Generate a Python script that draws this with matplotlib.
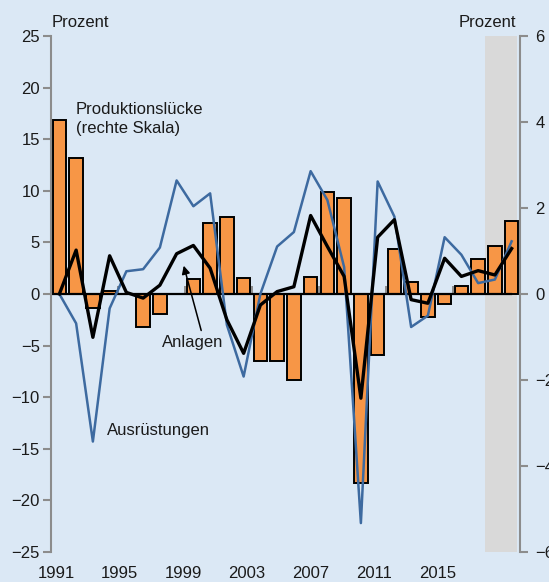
import matplotlib
matplotlib.use('Agg')
import matplotlib.pyplot as plt

plt.rcParams['font.family'] = ['Liberation Sans', 'DejaVu Sans']

years = list(range(1991, 2019))
# Produktionslücke, rechte Skala
luecke = [4.04, 3.16, -0.33, 0.08, 0.0, -0.77, -0.47, 0.0, 0.34, 1.64,
          1.78, 0.38, -1.55, -1.55, -2.0, 0.39, 2.36, 2.24, -4.4, -1.43,
          1.05, 0.27, -0.53, -0.23, 0.19, 0.81, 1.12, 1.70]
anlagen = [0, 4.25, -4.2, 3.7, 0.15, -0.4, 0.85, 3.9, 4.7, 2.5,
           -2.5, -5.75, -1.07, 0.23, 0.7, 7.6, 4.6, 1.7, -10.1, 5.5,
           7.2, -0.55, -0.9, 3.46, 1.7, 2.26, 1.84, 4.4]
ausruestungen = [0, -2.85, -14.3, -1.4, 2.2, 2.4, 4.5, 11.0, 8.5, 9.75,
                 -3.0, -8.0, 0.0, 4.6, 6.0, 11.9, 9.1, 2.6, -22.2, 10.9,
                 7.5, -3.2, -2.1, 5.5, 3.8, 1.05, 1.4, 5.1]
label_years = ['1991', '1995', '1999', '2003', '2007', '2011', '2015']

bg = '#DBE8F5'
orange = '#F79646'
blau = '#3D6AA0'
grau = '#8C8C8C'

x = list(range(len(years)))

fig = plt.figure(figsize=(5.49, 5.82), dpi=100)
fig.patch.set_facecolor(bg)
ax = fig.add_axes([0.0929, 0.0516, 0.8543, 0.8866])
ax2 = ax.twinx()
ax.set_zorder(ax2.get_zorder() + 1)
ax.patch.set_visible(False)
ax2.patch.set_visible(False)

# Prognosezeitraum
ax2.axvspan(25.4, 27.3, color='#D9D9D9', zorder=0, lw=0)
ax2.bar(x, luecke, width=0.8, color=orange, edgecolor='black', linewidth=1.4, zorder=2)
ax2.set_ylim(-6, 6)
ax2.set_yticks([-6, -4, -2, 0, 2, 4, 6])

ax.axhline(0, xmin=0, xmax=0.981, color='black', lw=1.6, zorder=1)
ax.plot(x, ausruestungen, color=blau, lw=1.8, zorder=3)
ax.plot(x, anlagen, color='black', lw=2.4, zorder=4)
ax.set_ylim(-25, 25)
ax.set_yticks(range(-25, 30, 5))
ax.set_xlim(-0.5, 27.5)

# Jahreszahlen
ax.set_xticks([-0.2 + 3.8 * k for k in range(len(label_years))])
ax.set_xticklabels(label_years)
ax.tick_params(axis='x', length=0, pad=10, labelsize=12, labelcolor='#1a1a1a')

# kleine Striche an der Nulllinie
sec = ax.secondary_xaxis(0.5)
sec.set_xticks([3.5, 7.5, 11.5, 15.5, 19.5, 23.5])
sec.set_xticklabels([])
sec.tick_params(axis='x', direction='out', length=6, width=1.4, color=grau)
sec.spines['bottom'].set_visible(False)
sec.spines['top'].set_visible(False)

for a in (ax, ax2):
    for s in ('top', 'bottom'):
        a.spines[s].set_visible(False)
ax.spines['right'].set_visible(False)
ax2.spines['left'].set_visible(False)
ax.spines['left'].set_color(grau)
ax.spines['left'].set_linewidth(1.5)
ax2.spines['right'].set_color(grau)
ax2.spines['right'].set_linewidth(1.5)
ax.tick_params(axis='y', direction='out', length=6, width=1.5, color=grau, pad=2,
               labelsize=12, labelcolor='#1a1a1a')
ax2.tick_params(axis='y', direction='out', length=6, width=1.5, color=grau, pad=5,
                labelsize=12, labelcolor='#1a1a1a')

ax.text(0.99, 16.96, 'Produktionslücke\n(rechte Skala)', fontsize=12, va='center',
        ha='left', linespacing=1.3, color='#1a1a1a')
ax.text(7.98, -4.75, 'Anlagen', fontsize=12, va='center', ha='center', color='#1a1a1a')
ax.text(2.83, -13.2, 'Ausrüstungen', fontsize=12, va='center', ha='left', color='#1a1a1a')
ax.annotate('', xy=(7.38, 3.0), xytext=(8.51, -3.8),
            arrowprops=dict(arrowstyle='-|>', color='black', lw=1.1, mutation_scale=12))

fig.text(0.0947, 0.962, 'Prozent', fontsize=12, ha='left', va='center', color='#1a1a1a')
fig.text(0.94, 0.962, 'Prozent', fontsize=12, ha='right', va='center', color='#1a1a1a')

fig.savefig('out.png', dpi=100, facecolor=bg)
